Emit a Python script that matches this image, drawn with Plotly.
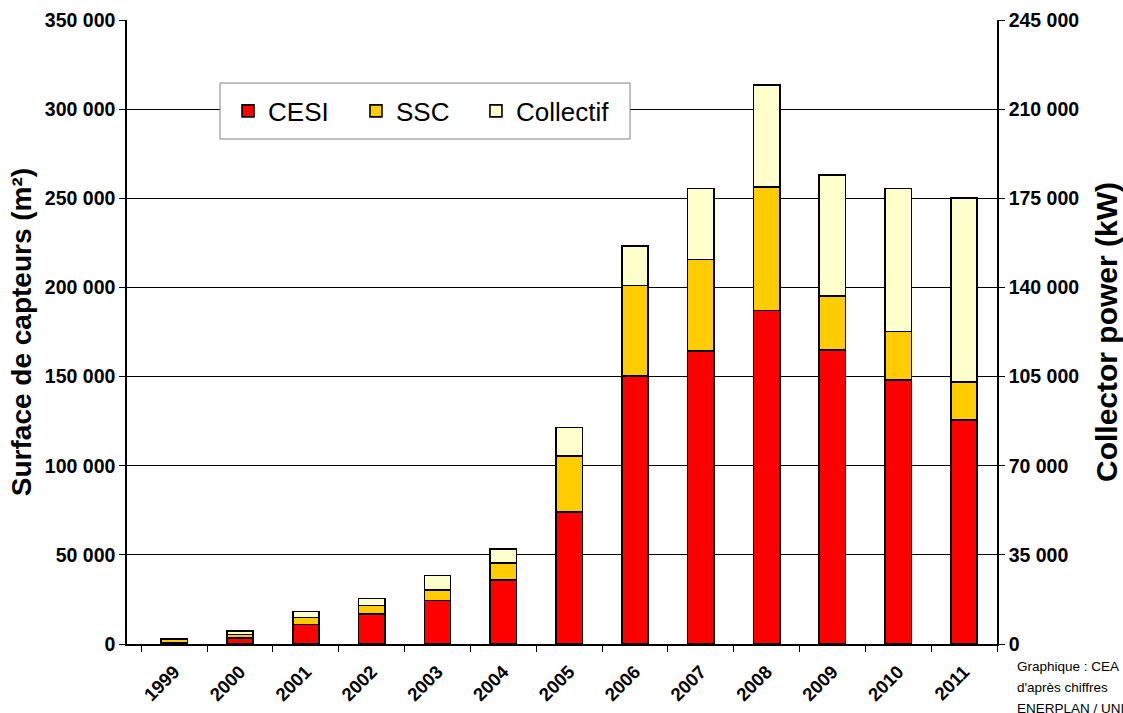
import plotly.graph_objects as go

# Surface installée par année et par type de système (m²)
years = ["1999", "2000", "2001", "2002", "2003", "2004", "2005",
         "2006", "2007", "2008", "2009", "2010", "2011"]
cesi = [600, 3500, 11000, 16800, 24300, 35900, 74000,
        150300, 164500, 187000, 165000, 148200, 125500]
ssc = [1900, 1900, 3800, 4700, 6000, 9500, 31400,
       50700, 51100, 69300, 30200, 27000, 21600]
collectif = [600, 1900, 3500, 4100, 8200, 7900, 16100,
             22200, 40000, 57100, 68000, 80200, 103200]

series_names = ["CESI", "SSC", "Collectif"]
series_colors = ["#FF0000", "#FFCC00", "#FFFFCC"]

# Graduations des deux axes verticaux
left_ticks = [0, 50000, 100000, 150000, 200000, 250000, 300000, 350000]
right_ticks = [0, 35000, 70000, 105000, 140000, 175000, 210000, 245000]

source_lines = ["Graphique : CEA", "d'après chiffres", "ENERPLAN / UNICLIMA"]

FONT = "Liberation Sans, Arial, sans-serif"

# Légende : un encadré commun, une entrée par série
legend_box = dict(x0=0.1069, x1=0.5782, y0=0.8093, y1=0.899)
legend_x = [0.1161, 0.2632, 0.4011]
legend_ids = ["legend", "legend2", "legend3"]


def fmt(v):
    return f"{v:,}".replace(",", " ")


fig = go.Figure()
for name, vals, col, lid in zip(series_names, [cesi, ssc, collectif],
                                series_colors, legend_ids):
    fig.add_trace(go.Bar(
        x=years, y=vals, name=name, legend=lid,
        marker=dict(color=col, line=dict(color="black", width=1.6)),
        width=0.4,
    ))

# Trace vide pour activer l'axe secondaire (puissance en kW)
fig.add_trace(go.Scatter(
    x=[years[0]], y=[None], yaxis="y2", mode="markers",
    showlegend=False, hoverinfo="skip",
))

legend_style = dict(
    orientation="h", xanchor="left", yanchor="middle",
    y=(legend_box["y0"] + legend_box["y1"]) / 2,
    bgcolor="rgba(0,0,0,0)", borderwidth=0,
    font=dict(size=26, family=FONT, color="black"),
)

fig.update_layout(
    barmode="stack",
    width=1123, height=713,
    margin=dict(l=127, r=126, t=20, b=69),
    paper_bgcolor="white", plot_bgcolor="white",
    font=dict(family=FONT, color="black"),
    showlegend=True,
    **{lid: dict(legend_style, x=lx) for lid, lx in zip(legend_ids, legend_x)},
    xaxis=dict(
        type="category",
        showline=True, linecolor="black", linewidth=1.5,
        ticks="outside", tickson="boundaries", ticklen=6,
        tickcolor="black", tickwidth=1,
        tickangle=-45, ticklabelstandoff=8,
        tickfont=dict(size=18.5, family=FONT, color="black", weight="bold"),
        showgrid=False, automargin=False,
    ),
    yaxis=dict(
        range=[0, 350000],
        tickvals=left_ticks, ticktext=[fmt(v) for v in left_ticks],
        showline=True, linecolor="black", linewidth=1.5,
        ticks="outside", ticklen=6, tickcolor="black",
        showgrid=True, gridcolor="black", gridwidth=1,
        zeroline=False, automargin=False,
        tickfont=dict(size=19.5, family=FONT, color="black", weight="bold"),
        title=dict(text="Surface de capteurs (m²)", standoff=5,
                   font=dict(size=28, family=FONT, color="black", weight="bold")),
    ),
    yaxis2=dict(
        range=[0, 245000], overlaying="y", side="right", anchor="x",
        tickvals=right_ticks, ticktext=[fmt(v) for v in right_ticks],
        showline=True, linecolor="black", linewidth=1.5,
        ticks="outside", ticklen=6, tickcolor="black",
        showgrid=False, zeroline=False, automargin=False,
        tickfont=dict(size=19.5, family=FONT, color="black", weight="bold"),
        title=dict(text="Collector power (kW)", standoff=18,
                   font=dict(size=30, family=FONT, color="black", weight="bold")),
    ),
)

fig.add_shape(
    type="rect", xref="paper", yref="paper", layer="above",
    fillcolor="white", line=dict(color="#808080", width=1),
    **legend_box,
)

for i, line in enumerate(source_lines):
    fig.add_annotation(
        text=line, xref="paper", yref="paper",
        x=1.0207, y=-0.021 - i * 0.0337, xanchor="left", yanchor="top",
        showarrow=False, align="left",
        font=dict(size=13.5, family=FONT, color="black"),
    )

fig.write_html("out.html")
